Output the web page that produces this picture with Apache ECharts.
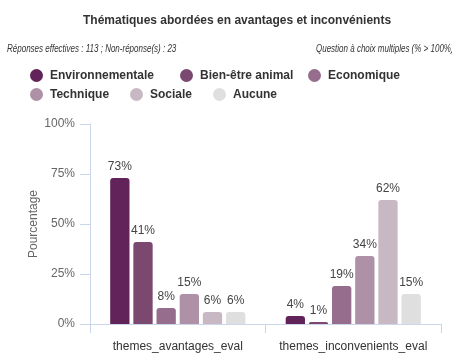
<!DOCTYPE html>
<html>
<head>
<meta charset="utf-8">
<script src="https://cdn.jsdelivr.net/npm/echarts@6/dist/echarts.min.js"></script>
<style>
html,body{margin:0;padding:0;background:#fff;}
#chart{width:452px;height:356px;}
</style>
</head>
<body>
<div id="chart"></div>
<script>
const categories = ["themes_avantages_eval", "themes_inconvenients_eval"];
const seriesNames = ["Environnementale", "Bien-être animal", "Economique", "Technique", "Sociale", "Aucune"];
const environnementale = [73, 4];
const bienEtreAnimal = [41, 1];
const economique = [8, 19];
const technique = [15, 34];
const sociale = [6, 62];
const aucune = [6, 15];
const yTicks = [0, 25, 50, 75, 100];
const titleText = "Thématiques abordées en avantages et inconvénients";
const leftNote = "Réponses effectives : 113 ; Non-réponse(s) : 23";
const rightNote = "Question à choix multiples (% > 100%)";

const values = [environnementale, bienEtreAnimal, economique, technique, sociale, aucune];
const colors = ["#62235a", "#7b4870", "#966d8d", "#ae90a7", "#c8b8c4", "#dfdfdf"];
const FONT = "Liberation Sans, Arial, sans-serif";

const legendPos = [
  {left: 30, top: 69}, {left: 180, top: 69}, {left: 308, top: 69},
  {left: 30, top: 88}, {left: 130, top: 88}, {left: 213, top: 88}
];

const chart = echarts.init(document.getElementById('chart'), null, {renderer: 'canvas'});
chart.setOption({
  animation: false,
  backgroundColor: '#fff',
  color: colors,
  title: {
    text: titleText,
    left: 78, top: 10,
    textStyle: {fontFamily: FONT, fontSize: 12, fontWeight: 'bold', color: '#333'}
  },
  graphic: [
    {type: 'text', x: 7, y: 44, scaleX: 0.8,
     style: {text: leftNote, fontFamily: FONT, fontSize: 10, fontStyle: 'italic', fill: '#333'}},
    {type: 'text', x: 316, y: 44, scaleX: 0.8,
     style: {text: rightNote, fontFamily: FONT, fontSize: 10, fontStyle: 'italic', fill: '#333'}}
  ],
  legend: seriesNames.map((n, i) => ({
    data: [n],
    left: legendPos[i].left, top: legendPos[i].top,
    icon: 'circle', itemWidth: 17, itemHeight: 13, padding: 0,
    textStyle: {fontFamily: FONT, fontSize: 12, fontWeight: 'bold', color: '#333'},
    selectedMode: false
  })),
  grid: {left: 90, right: 11, top: 124, bottom: 32, containLabel: false},
  xAxis: {
    type: 'category',
    data: categories,
    axisLine: {lineStyle: {color: '#ccd6eb'}},
    axisTick: {show: true, length: 9, lineStyle: {color: '#ccd6eb'}},
    axisLabel: {interval: 0, hideOverlap: false, fontFamily: FONT, fontSize: 12, color: '#333', margin: 17}
  },
  yAxis: {
    type: 'value',
    min: yTicks[0], max: yTicks[yTicks.length - 1], interval: 25,
    name: 'Pourcentage', nameLocation: 'middle', nameGap: 50, nameMoveOverlap: false,
    nameTextStyle: {fontFamily: FONT, fontSize: 12, color: '#666'},
    axisLine: {show: true, lineStyle: {color: '#ccd6eb'}},
    axisTick: {show: true, length: 10, lineStyle: {color: '#ccd6eb'}},
    splitLine: {show: false},
    axisLabel: {fontFamily: FONT, fontSize: 12, color: '#666', margin: 15, formatter: '{value}%'}
  },
  series: seriesNames.map((n, i) => ({
    name: n,
    type: 'bar',
    data: values[i],
    barCategoryGap: '23%',
    barGap: '20%',
    itemStyle: {color: colors[i], borderRadius: [3, 3, 0, 0]},
    label: {show: true, position: 'top', distance: 5, formatter: '{c}%',
            fontFamily: FONT, fontSize: 12, color: '#444'}
  }))
});
</script>
</body>
</html>
